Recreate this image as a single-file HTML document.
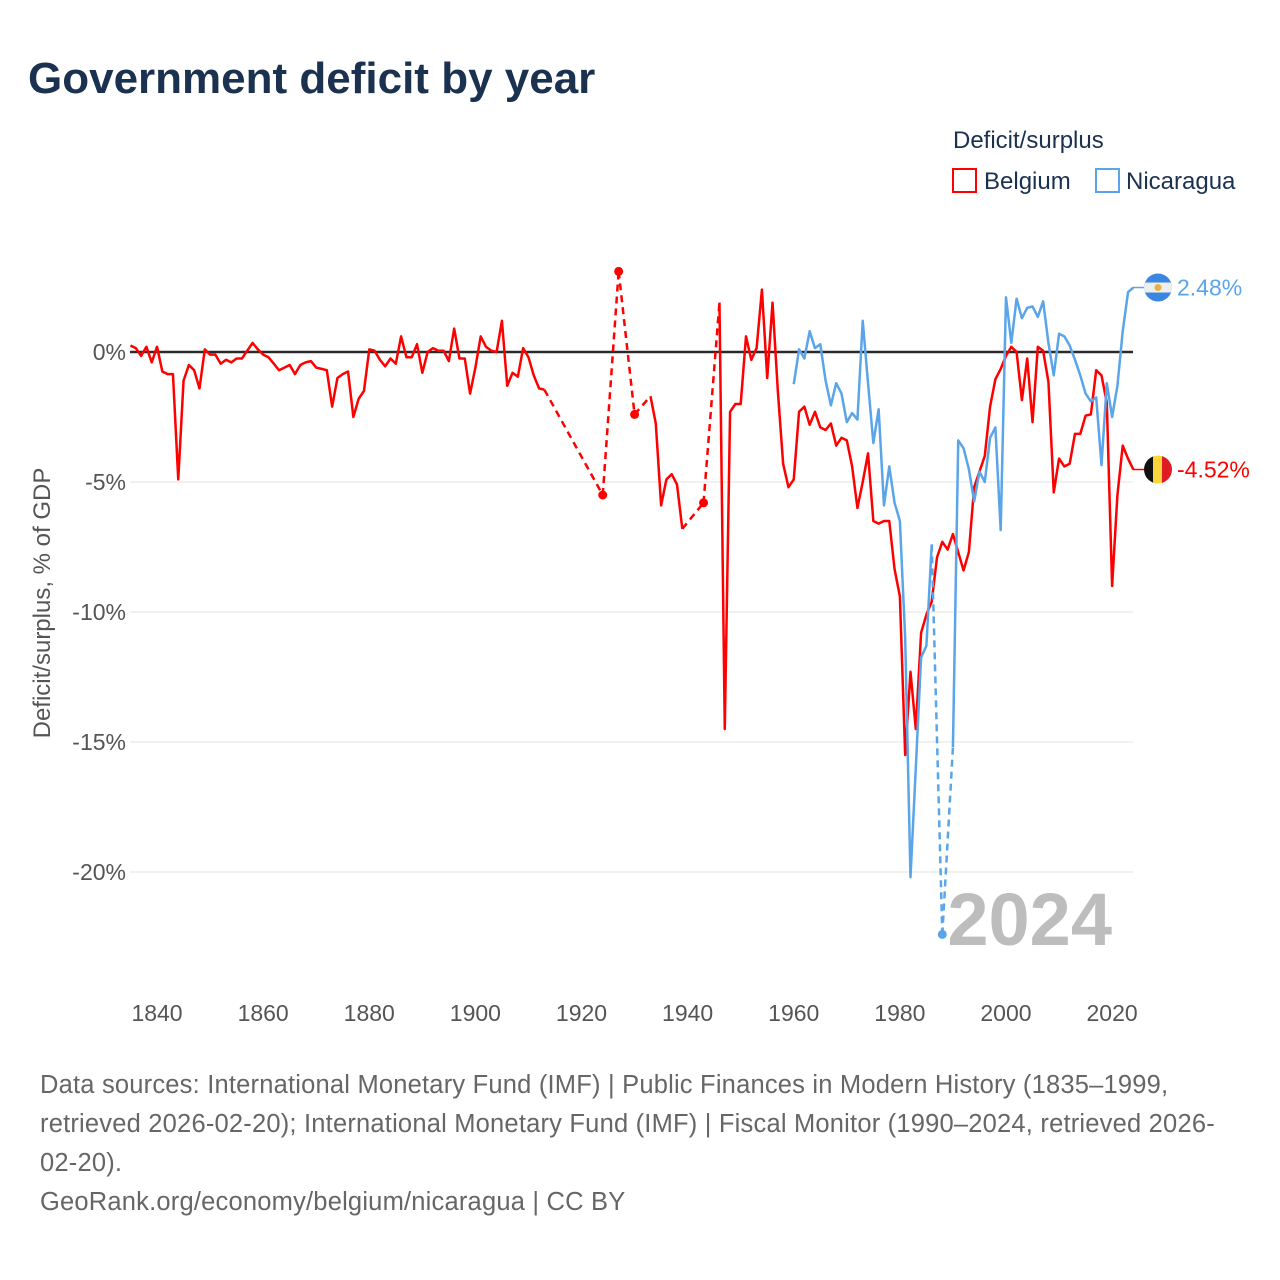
<!DOCTYPE html>
<html><head><meta charset="utf-8">
<style>
body{margin:0;background:#fff;width:1280px;height:1280px;overflow:hidden;font-family:"Liberation Sans",sans-serif}
svg{display:block}
</style></head>
<body>
<svg id="chart" width="1280" height="1280">
<text x="28" y="93" font-size="44" font-weight="bold" fill="#1b3150">Government deficit by year</text>
<g>
<text x="953" y="148" font-size="24" fill="#1b3150">Deficit/surplus</text>
<g><rect x="953" y="169" width="23" height="23" fill="none" stroke="#f00" stroke-width="2"/><text x="984" y="189" font-size="24" fill="#1b3150">Belgium</text></g>
<g><rect x="1096" y="169" width="23" height="23" fill="none" stroke="#5aa5ea" stroke-width="2"/><text x="1126" y="189" font-size="24" fill="#1b3150">Nicaragua</text></g>
</g>
<text transform="translate(50,603) rotate(-90)" text-anchor="middle" font-size="24" fill="#555">Deficit/surplus, % of GDP</text>
<g id="grid"></g>
<text x="1112" y="945" text-anchor="end" font-size="74" font-weight="bold" fill="#bdbdbd">2024</text>
<g id="series"></g>
<g id="labels"></g>
<g font-size="25.5" fill="#666" letter-spacing="0.2">
<text x="40" y="1093">Data sources: International Monetary Fund (IMF) | Public Finances in Modern History (1835–1999,</text>
<text x="40" y="1132">retrieved 2026-02-20); International Monetary Fund (IMF) | Fiscal Monitor (1990–2024, retrieved 2026-</text>
<text x="40" y="1171">02-20).</text>
<text x="40" y="1210">GeoRank.org/economy/belgium/nicaragua | CC BY</text>
</g>
</svg>
<script>
const N=null;
const yTicks=[0,-5,-10,-15,-20];
const xTicks=[1840,1860,1880,1900,1920,1940,1960,1980,2000,2020];
const beStart=1835;
const belgium=[0.25,0.15,-0.15,0.2,-0.4, 0.2,-0.75,-0.85,-0.85,-4.9, -1.1,-0.5,-0.7,-1.4,0.1,
-0.1,-0.1,-0.45,-0.3,-0.4, -0.25,-0.25,0.05,0.35,0.1, -0.1,-0.2,-0.45,-0.7,-0.6,
-0.5,-0.85,-0.5,-0.4,-0.35, -0.6,-0.65,-0.7,-2.1,-1.0, -0.85,-0.75,-2.5,-1.8,-1.5,
0.1,0.05,-0.3,-0.55,-0.25, -0.45,0.6,-0.2,-0.2,0.3, -0.8,0.0,0.15,0.05,0.05,
-0.35,0.9,-0.25,-0.25,-1.6, -0.6,0.6,0.2,0.05,0.0, 1.2,-1.3,-0.8,-0.95,0.15,
-0.2,-0.9,-1.4,-1.45, N,N,N,N,N,N,N,N,N,N, -5.5,N,N,3.1,N,N,-2.4,N,N,
-1.7,-2.75,-5.9,-4.9,-4.7,-5.1,-6.8, N,N,N,-5.8,N,N,
1.9,-14.5,-2.3,-2.0,-2.0,0.6,-0.3,0.15,2.4,-1.0,1.9,-1.5,-4.3,-5.2,
-4.9,-2.3,-2.1,-2.8,-2.3,-2.9,-3.0,-2.75,-3.6,-3.3,
-3.4,-4.4,-6.0,-5.0,-3.9,-6.5,-6.6,-6.5,-6.5,-8.35,
-9.4,-15.5,-12.3,-14.5,-10.8,-10.1,-9.6,-7.9,-7.3,-7.6,
-7.0,-7.7,-8.4,-7.7,-5.2,-4.6,-4.0,-2.1,-1.05,-0.65,
-0.15,0.2,0.0,-1.85,-0.25,-2.7,0.2,0.05,-1.15,-5.4,
-4.1,-4.4,-4.3,-3.15,-3.15,-2.45,-2.4,-0.7,-0.9,-1.95,
-9.0,-5.5,-3.6,-4.1,-4.52];
const niStart=1960;
const nicaragua=[-1.24,0.1,-0.25,0.8,0.15,0.3,-1.1,-2.05,-1.2,-1.6,
-2.7,-2.35,-2.6,1.2,-1.2,-3.5,-2.2,-5.9,-4.4,-5.8,
-6.5,-11,-20.2,-16,-11.75,-11.3,-7.4,N,-22.4,N,
-15.2,-3.4,-3.7,-4.5,-5.75,-4.6,-5.0,-3.3,-2.9,-6.85,
2.1,0.35,2.05,1.3,1.7,1.75,1.35,1.95,0.35,-0.9,
0.7,0.6,0.25,-0.3,-0.9,-1.6,-1.9,-1.75,-4.35,-1.2,
-2.5,-1.3,0.8,2.3,2.48];
const X=yr=>130.5+(yr-1835)*5.306;
const Y=v=>352-v*26;
const NS='http://www.w3.org/2000/svg';
function mk(t,a,p){const e=document.createElementNS(NS,t);for(const k in a)e.setAttribute(k,a[k]);p.appendChild(e);return e;}
const grid=document.getElementById('grid');
yTicks.forEach(v=>{
  const l=mk('line',{x1:130,x2:1133,y1:Y(v),y2:Y(v),stroke:v===0?'#2a2a2a':'#e3e3e3','stroke-width':v===0?2.5:1},grid);
  
  
  const t=mk('text',{x:126,y:Y(v)+8,'text-anchor':'end','font-size':23,fill:'#555'},grid);
  t.textContent=v+'%';
  
  
});
xTicks.forEach(yr=>{
  const t=mk('text',{x:X(yr),y:1021,'text-anchor':'middle','font-size':23,fill:'#555'},grid);
  t.textContent=yr;
  
  
});
const series=document.getElementById('series');
function draw(vals,start,color,name){
  const g=mk('g',{},series);
  
  
  const runs=[];let cur=null;
  vals.forEach((v,i)=>{if(v===null){cur=null;return;}const p=[X(start+i),Y(v)];if(!cur){cur=[];runs.push(cur);}cur.push(p);});
  for(let r=0;r<runs.length;r++){
    const run=runs[r];
    if(r>0){const a=runs[r-1][runs[r-1].length-1],b=run[0];
      const d=mk('line',{x1:a[0],y1:a[1],x2:b[0],y2:b[1],stroke:color,'stroke-width':2.5,'stroke-dasharray':'7 5'},g);
      
      }
    if(run.length===1){const c=mk('circle',{cx:run[0][0],cy:run[0][1],r:4.5,fill:color},g);
      
      }
    else{const pl=mk('polyline',{points:run.map(p=>p.join(',')).join(' '),fill:'none',stroke:color,'stroke-width':2.5,'stroke-linejoin':'round'},g);
      
      }
  }
}
draw(belgium,beStart,'#ff0000','belgium');
draw(nicaragua,niStart,'#5aa5ea','nicaragua');
const lab=document.getElementById('labels');
function endLabel(val,color,name,flag){
  const y=Y(val);
  const l=mk('line',{x1:1133,y1:y,x2:1144,y2:y,stroke:color,'stroke-width':1.5},lab);
  
  
  const g=mk('g',{},lab);
  
  
  const clip=mk('clipPath',{id:'c'+name},g);
  mk('circle',{cx:1158,cy:y,r:14},clip);
  flag(g,y,'url(#c'+name+')');
  const t=mk('text',{x:1177,y:y+8,'font-size':23,fill:color},lab);
  t.textContent=val.toFixed(2)+'%';
  
  
}
endLabel(nicaragua[nicaragua.length-1],'#5aa5ea','nicaragua',(g,y,c)=>{
  mk('rect',{x:1144,y:y-14,width:28,height:28,fill:'#3a86e0','clip-path':c},g);
  mk('rect',{x:1144,y:y-5,width:28,height:10,fill:'#eee','clip-path':c},g);
  mk('circle',{cx:1158,cy:y,r:3.5,fill:'#e8b23a'},g);
});
endLabel(belgium[belgium.length-1],'#ff0000','belgium',(g,y,c)=>{
  mk('rect',{x:1144,y:y-14,width:10,height:28,fill:'#111','clip-path':c},g);
  mk('rect',{x:1153,y:y-14,width:10,height:28,fill:'#fcd53a','clip-path':c},g);
  mk('rect',{x:1162,y:y-14,width:10,height:28,fill:'#e01b24','clip-path':c},g);
});
</script>
</body></html>
